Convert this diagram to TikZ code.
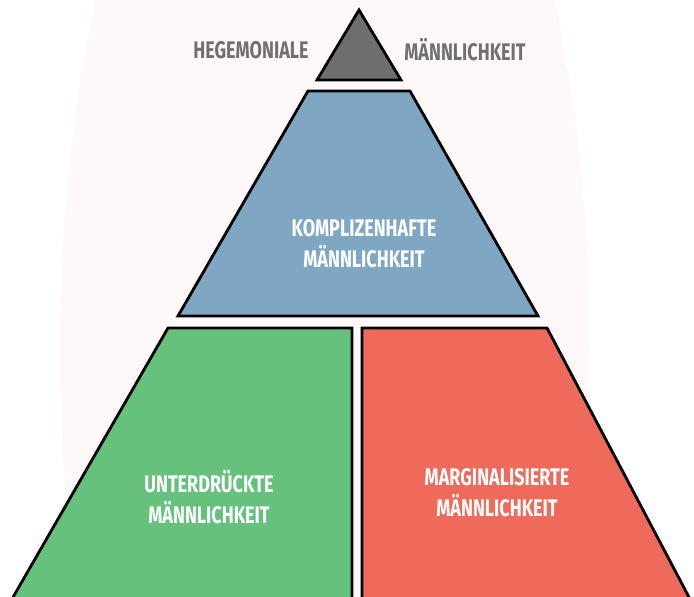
\documentclass[tikz,border=0pt]{standalone}
\usepackage{fontspec}
\newfontfamily\narrowfont[FakeStretch=0.75]{Fira Sans}
\usetikzlibrary{positioning}
\definecolor{topgray}{HTML}{6E6E6E}
\definecolor{labelgray}{HTML}{707070}
\definecolor{compblue}{HTML}{7FA7C3}
\definecolor{subgreen}{HTML}{66C17D}
\definecolor{margred}{HTML}{EE6A5A}
\definecolor{haze}{HTML}{FEF9F8}

\begin{document}
\begin{tikzpicture}[x=1pt, y=-1pt,
  layer/.style={draw=black, line width=2.8pt, line join=miter},
  inside/.style={text=white, align=center,
                 font=\narrowfont\bfseries\fontsize{24}{31}\selectfont},
  outside/.style={text=labelgray,
                  font=\narrowfont\bfseries\fontsize{24}{31}\selectfont}
]
\useasboundingbox (0,0) rectangle (694,597);
\clip (0,0) rectangle (694,597);
% faint backdrop
\fill[haze] (325,350) ellipse (265 and 700);

% pyramid layers
\path[layer, fill=topgray] (359,10) -- (401,80) -- (317,80) -- cycle;
\path[layer, fill=compblue] (308,91) -- (410,91) -- (538,316) -- (178,316) -- cycle;
\path[layer, fill=subgreen] (168,328) -- (352,328) -- (352,599) -- (12,599) -- cycle;
\path[layer, fill=margred] (362,328) -- (547,328) -- (690,599) -- (362,599) -- cycle;

\node[outside] (hegem) at (251,50) {HEGEMONIALE};
\node[outside] (maenn) at (465,50) {MÄNNLICHKEIT};
\node[inside] (komp) at (364,244) {KOMPLIZENHAFTE\\MÄNNLICHKEIT};
\node[inside] (unter) at (209,497) {UNTERDRÜCKTE\\MÄNNLICHKEIT};
\node[inside] (margi) at (497,493) {MARGINALISIERTE\\MÄNNLICHKEIT};
\end{tikzpicture}
\end{document}
